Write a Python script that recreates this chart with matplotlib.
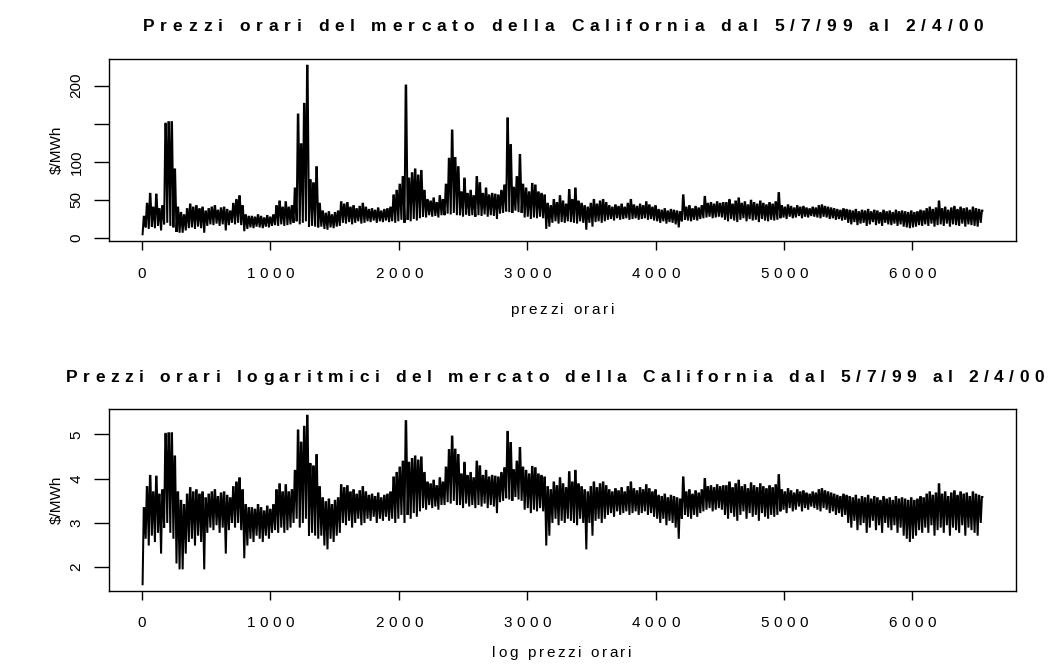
import numpy as np
import matplotlib
matplotlib.use("Agg")
import matplotlib.pyplot as plt
from matplotlib.font_manager import findfont, FontProperties
from matplotlib.ft2font import FT2Font

# Daily trough (night) and peak (afternoon) hourly prices, $/MWh,
# California market, 5/7/99 - 2/4/00 (273 days)
day_low = [
    5, 14, 12, 15, 13, 16, 10, 18, 20, 16,
    14, 8, 7, 7, 10, 13, 14, 12, 15, 13,
    7, 16, 18, 17, 19, 16, 18, 10, 17, 20,
    18, 20, 17, 9, 12, 14, 13, 15, 14, 13,
    15, 14, 16, 17, 16, 18, 16, 17, 18, 20,
    22, 18, 20, 22, 15, 16, 15, 14, 15, 12,
    11, 14, 13, 15, 16, 20, 19, 21, 18, 20,
    22, 19, 20, 22, 21, 23, 20, 22, 21, 23,
    21, 22, 20, 22, 24, 20, 24, 22, 25, 23,
    26, 28, 27, 30, 28, 29, 27, 30, 30, 32,
    31, 33, 30, 30, 28, 31, 29, 30, 28, 30,
    29, 31, 28, 30, 29, 25, 32, 33, 35, 34,
    33, 36, 34, 33, 27, 28, 25, 27, 26, 28,
    26, 12, 15, 20, 22, 19, 21, 20, 22, 21,
    20, 19, 22, 20, 11, 20, 15, 21, 22, 20,
    22, 24, 25, 23, 26, 24, 25, 26, 24, 25,
    26, 24, 25, 26, 24, 25, 23, 22, 20, 22,
    19, 21, 20, 18, 14, 22, 24, 23, 22, 24,
    23, 25, 26, 27, 28, 26, 27, 28, 27, 24,
    22, 25, 23, 21, 24, 26, 22, 25, 23, 24,
    21, 25, 23, 22, 24, 23, 24, 26, 27, 25,
    28, 26, 27, 29, 26, 28, 27, 29, 28, 27,
    26, 28, 27, 25, 26, 24, 25, 23, 24, 20,
    18, 21, 17, 19, 20, 16, 18, 21, 17, 19,
    16, 20, 18, 17, 19, 16, 18, 15, 14, 13,
    14, 15, 17, 16, 18, 16, 19, 15, 17, 18,
    16, 19, 15, 18, 17, 16, 19, 15, 18, 17,
    16, 15, 20,
]
day_high = [
    28, 45, 58, 40, 57, 38, 42, 150, 152, 152,
    90, 40, 33, 30, 38, 44, 40, 42, 38, 40,
    35, 38, 40, 42, 36, 39, 40, 37, 35, 45,
    50, 55, 42, 30, 28, 28, 27, 30, 28, 26,
    29, 27, 30, 42, 48, 40, 47, 40, 42, 65,
    162, 123, 176, 226, 76, 72, 93, 45, 35, 32,
    34, 30, 33, 35, 47, 44, 46, 40, 42, 38,
    41, 45, 40, 37, 38, 36, 39, 35, 37, 38,
    40, 56, 62, 70, 80, 200, 78, 85, 90, 82,
    88, 62, 50, 48, 52, 46, 55, 50, 70, 104,
    141, 105, 93, 60, 78, 58, 62, 55, 80, 72,
    58, 65, 56, 58, 57, 56, 62, 69, 157, 122,
    66, 80, 109, 70, 65, 60, 71, 69, 60, 58,
    56, 45, 42, 50, 46, 55, 48, 44, 63, 50,
    65, 48, 45, 42, 40, 45, 50, 44, 48, 50,
    46, 42, 40, 43, 41, 44, 40, 45, 50, 43,
    41, 44, 42, 47, 43, 40, 42, 37, 36, 38,
    35, 37, 36, 35, 34, 56, 40, 42, 38, 41,
    39, 42, 54, 45, 46, 44, 47, 45, 46, 46,
    50, 44, 48, 52, 45, 47, 43, 49, 46, 44,
    48, 45, 43, 46, 44, 47, 59, 42, 40, 43,
    41, 39, 42, 40, 41, 39, 38, 40, 39, 42,
    43, 41, 40, 39, 38, 37, 36, 38, 37, 36,
    35, 37, 34, 36, 35, 37, 34, 36, 35, 33,
    36, 34, 35, 33, 36, 34, 35, 34, 33, 35,
    33, 34, 36, 35, 38, 40, 37, 39, 48, 38,
    40, 36, 39, 41, 37, 40, 38, 39, 36, 40,
    38, 37, 36,
]
# hour of day of the night trough and of the afternoon peak period
low_hour, peak_start, peak_end = 4, 13, 17

title_top = "Prezzi orari del mercato della California dal 5/7/99 al 2/4/00"
title_bot = "Prezzi orari logaritmici del mercato della California dal 5/7/99 al 2/4/00"
xlabel_top = "prezzi orari"
xlabel_bot = "log prezzi orari"
ylabel = "$/MWh"
xticks = [0, 1000, 2000, 3000, 4000, 5000, 6000]
yticks_top = [0, 50, 100, 150, 200]
yticklabels_top = ["0", "50", "100", "", "200"]
yticks_bot = [2, 3, 4, 5]

# ---- hourly series: trough, then peak period, of each day in time order ----
lows = np.asarray(day_low, float)
highs = np.asarray(day_high, float)
days = np.arange(len(lows))
hours = np.column_stack([days * 24 + low_hour,
                         days * 24 + peak_start,
                         days * 24 + peak_end]).ravel() + 1
price = np.column_stack([lows, highs, highs]).ravel()
logprice = np.log(price)

W, H, DPI = 1060, 668, 100
fig = plt.figure(figsize=(W / DPI, H / DPI), dpi=DPI)
plt.rcParams["font.family"] = ["Liberation Sans", "DejaVu Sans"]

_fonts = {}


def advances(s, size, weight):
    key = (size, weight)
    if key not in _fonts:
        f = FT2Font(findfont(FontProperties(family="Liberation Sans", weight=weight)))
        f.set_size(size, DPI)
        _fonts[key] = f
    f = _fonts[key]
    return [f.load_char(ord(c)).linearHoriAdvance / 65536.0 for c in s]


def spaced_text(xc, ybase, s, size, weight="normal", track=3.0):
    """Draw s centred on pixel xc with extra letter spacing (pixels from top-left)."""
    adv = advances(s, size, weight)
    total = sum(adv) + track * (len(s) - 1)
    x = xc - total / 2.0
    for ch, a in zip(s, adv):
        if ch != " ":
            fig.text(x / W, 1 - ybase / H, ch, fontsize=size, fontweight=weight,
                     ha="left", va="baseline", color="black")
        x += a + track


def make_axes(top, bottom, left=109, right=1016):
    return fig.add_axes([left / W, 1 - bottom / H, (right - left) / W, (bottom - top) / H])


def style(ax, y, yticks, yticklabels):
    ax.plot(hours, y, color="black", lw=1.45, solid_joinstyle="miter")
    xr = hours.max() - hours.min()
    ax.set_xlim(hours.min() - 0.04 * xr, hours.max() + 0.04 * xr)
    yr = y.max() - y.min()
    ax.set_ylim(y.min() - 0.04 * yr, y.max() + 0.04 * yr)
    ax.set_xticks(xticks)
    ax.set_xticklabels([""] * len(xticks))
    ax.set_yticks(yticks)
    ax.set_yticklabels(yticklabels)
    for sp in ax.spines.values():
        sp.set_linewidth(1.0)
        sp.set_color("black")
    ax.tick_params(axis="x", direction="out", length=6.5, width=1.0, color="black")
    ax.tick_params(axis="y", direction="out", length=10.8, width=1.0, color="black",
                   labelrotation=90, labelsize=11, pad=7.5)
    for lab in ax.get_yticklabels():
        lab.set_va("center")


ax1 = make_axes(59, 241)
style(ax1, price, yticks_top, yticklabels_top)
ax2 = make_axes(409, 591)
style(ax2, logprice, yticks_bot, [str(v) for v in yticks_bot])

# letter-spaced x tick labels
for ax, ybase in ((ax1, 278), (ax2, 627)):
    for v in xticks:
        xp = ax.transData.transform((v, 0))[0]
        spaced_text(xp, ybase, str(v), 11, track=4.6)

spaced_text(563, 31, title_top, 12.5, "bold", track=5.9)
spaced_text(555, 382, title_bot, 12.5, "bold", track=5.55)
spaced_text(562, 314, xlabel_top, 11, track=2.6)
spaced_text(562, 657, xlabel_bot, 11, track=2.6)

for ax, yc in ((ax1, 150), (ax2, 500)):
    fig.text(57 / W, 1 - yc / H, ylabel, rotation=90, fontsize=11,
             ha="center", va="center")

fig.savefig("out.png", dpi=DPI, facecolor="white")
